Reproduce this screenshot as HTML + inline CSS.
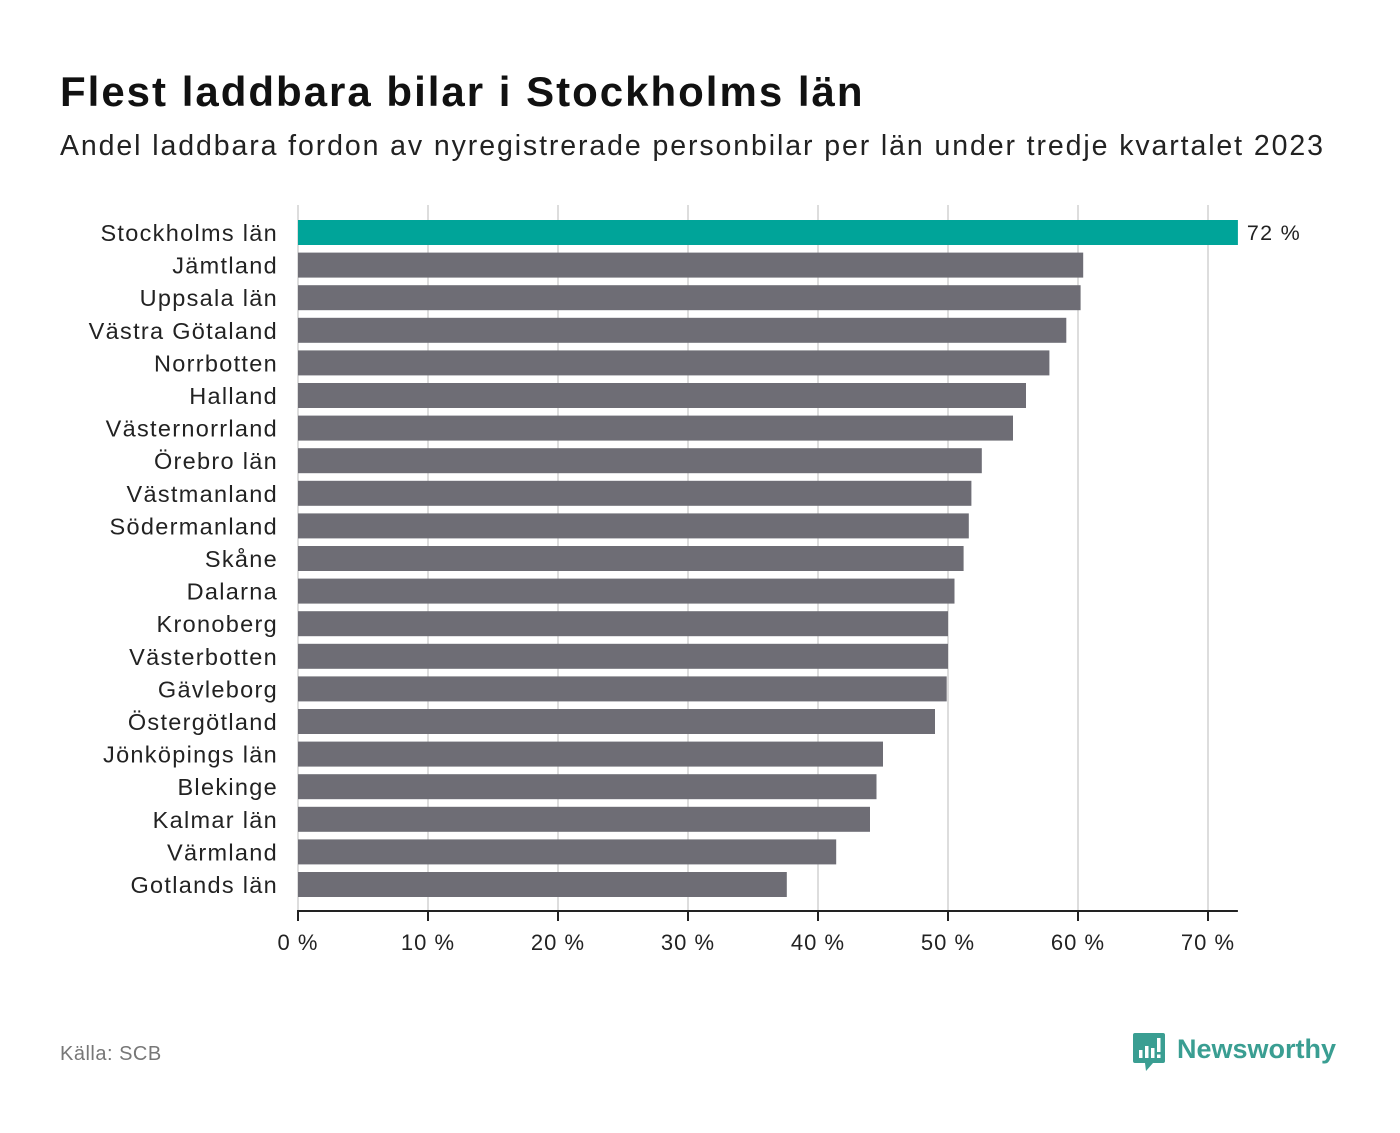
<!DOCTYPE html>
<html><head><meta charset="utf-8">
<style>
body{margin:0;width:1400px;height:1133px;background:#fff;font-family:"Liberation Sans","DejaVu Sans",sans-serif;overflow:hidden;position:relative}
#title{position:absolute;left:60px;top:68px;font-size:42px;font-weight:bold;color:#111;margin:0;letter-spacing:2px}
#sub{position:absolute;left:60px;top:130px;font-size:28.5px;color:#222;letter-spacing:1.9px;white-space:nowrap}
#src{position:absolute;left:60px;top:1043px;font-size:20px;color:#777;letter-spacing:0.5px}
#logo{position:absolute;left:1133px;top:1033px}
</style></head><body>
<h1 id="title">Flest laddbara bilar i Stockholms län</h1>
<div id="sub">Andel laddbara fordon av nyregistrerade personbilar per län under tredje kvartalet 2023</div>
<svg id="chart" width="1400" height="1133" style="position:absolute;left:0;top:0"></svg>
<div id="src">Källa: SCB</div>
<div id="logo">
<svg width="210" height="42">
<path d="M0 2 Q0 0 2 0 H30 Q32 0 32 2 V28 Q32 30 30 30 H20 L13 38 L12 30 H2 Q0 30 0 28Z" fill="#3a9e92"/>
<rect x="6" y="17" width="3.5" height="8" fill="#fff"/><rect x="12" y="13" width="3.5" height="12" fill="#fff"/><rect x="18" y="15" width="3.5" height="10" fill="#fff"/><rect x="24" y="5" width="3.5" height="14" fill="#fff"/><rect x="24" y="21.5" width="3.5" height="3.5" fill="#fff"/>
<text x="44" y="25" font-size="27" font-weight="bold" fill="#3a9e92" font-family="Liberation Sans, sans-serif">Newsworthy</text>
</svg></div>
<script>
const categories=["Stockholms län","Jämtland","Uppsala län","Västra Götaland","Norrbotten","Halland","Västernorrland","Örebro län","Västmanland","Södermanland","Skåne","Dalarna","Kronoberg","Västerbotten","Gävleborg","Östergötland","Jönköpings län","Blekinge","Kalmar län","Värmland","Gotlands län"];
const values=[72.3,60.4,60.2,59.1,57.8,56.0,55.0,52.6,51.8,51.6,51.2,50.5,50.0,50.0,49.9,49.0,45.0,44.5,44.0,41.4,37.6];
const ticks=[0,10,20,30,40,50,60,70];
const tickLabels=["0 %","10 %","20 %","30 %","40 %","50 %","60 %","70 %"];
const valueLabels=["72 %"];
const NS="http://www.w3.org/2000/svg";
const svg=document.getElementById('chart');
const x=v=>298+v*13;
const y=i=>220+i*32.6;
const xMax=x(72.3);
function mk(t,a){const e=document.createElementNS(NS,t);for(const k in a)e.setAttribute(k,a[k]);svg.appendChild(e);return e;}
ticks.forEach((t,i)=>{
 const g=mk('line',{x1:x(t),x2:x(t),y1:205,y2:911,stroke:'#ddd','stroke-width':2});
 
 
 const tk=mk('line',{x1:x(t),x2:x(t),y1:911,y2:921,stroke:'#222','stroke-width':2});
 
 
 const tl=mk('text',{x:x(t),y:950,'text-anchor':'middle','font-size':22,fill:'#222','letter-spacing':1});
 tl.textContent=tickLabels[i];
 
 
});
categories.forEach((c,i)=>{
 const b=mk('rect',{x:x(0),y:y(i),width:x(values[i])-x(0),height:25,fill:i===0?'#00a499':'#6e6d75'});
 
 
 const l=mk('text',{x:278,y:y(i)+21,'text-anchor':'end','font-size':23.5,fill:'#222','letter-spacing':1.3});
 l.textContent=c;
 
 
});
const vl=mk('text',{x:x(values[0])+9,y:y(0)+20,'font-size':21.5,fill:'#222','letter-spacing':1.3});
vl.textContent=valueLabels[0];


const ax=mk('line',{x1:x(0)-1,x2:xMax,y1:911,y2:911,stroke:'#222','stroke-width':2});


</script>
</body></html>
